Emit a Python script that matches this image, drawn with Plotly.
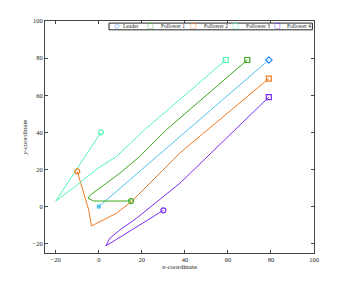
import plotly.graph_objects as go

# Trajectories
leader_x = [0, 79]
leader_y = [0, 79]

f1_x = [15, 5, -2.3, -5, -3.9, -1.9, 4, 9.8, 19, 31.5, 69]
f1_y = [3, 3, 3, 4.5, 6.3, 8, 13, 18, 27, 41.5, 79]

f2_x = [-10, -4.7, -3.4, 0.5, 8.2, 15.2, 37.7, 79]
f2_y = [19, -1.8, -10.4, -8, -3.6, 2.7, 28.9, 69]

f3_x = [1, -20, -11.9, -0.3, 8.2, 21.4, 59]
f3_y = [40, 3, 10, 20.7, 27, 41.5, 79]

f4_x = [30, 3.3, 5.1, 9.8, 17.5, 25.3, 37.7, 79]
f4_y = [-2, -21.2, -17.1, -12.6, -6.3, 0.9, 12.6, 59]

tick_vals = [-20, 0, 20, 40, 60, 80, 100]
tick_text = ["−20", "0", "20", "40", "60", "80", "100"]

names = ["Leader", "Follower 1", "Follower 2", "Follower 3", "Follower 4"]
xs = [leader_x, f1_x, f2_x, f3_x, f4_x]
ys = [leader_y, f1_y, f2_y, f3_y, f4_y]
line_colors = ["#4fc3f0", "#3ca81e", "#f07a22", "#55f5b5", "#7a2cf2"]
marker_colors = ["#2a8cff", "#3ca81e", "#f07a22", "#55f5b5", "#7a2cf2"]
end_symbols = ["diamond-open", "square-open", "square-open", "square-open", "square-open"]
legend_glyphs = ["◇", "□", "□", "□", "□"]

font = "Liberation Serif, DejaVu Serif, serif"
fig = go.Figure()

for i in range(5):
    fig.add_trace(go.Scatter(x=xs[i], y=ys[i], mode="lines",
                             line=dict(color=line_colors[i], width=1),
                             showlegend=False, hoverinfo="skip"))
# start markers
fig.add_trace(go.Scatter(x=[leader_x[0]], y=[leader_y[0]], mode="markers",
                         marker=dict(symbol="square", size=4, color=line_colors[0]),
                         showlegend=False))
for i in range(1, 5):
    fig.add_trace(go.Scatter(x=[xs[i][0]], y=[ys[i][0]], mode="markers",
                             marker=dict(symbol="circle-open", size=5, color=marker_colors[i],
                                         line=dict(width=1.2)),
                             showlegend=False))
# end markers
for i in range(5):
    fig.add_trace(go.Scatter(x=[xs[i][-1]], y=[ys[i][-1]], mode="markers", name=names[i],
                             marker=dict(symbol=end_symbols[i], size=5, color=marker_colors[i],
                                         line=dict(width=1.2)),
                             showlegend=False))

axis_common = dict(showgrid=False, zeroline=False, showline=True, linecolor="#444",
                   linewidth=1, mirror="ticks", ticks="inside", ticklen=3, tickcolor="#444",
                   automargin=False,
                   tickfont=dict(family=font, size=6.5, color="#222"))
fig.update_xaxes(range=[-25, 100], tickvals=tick_vals, ticktext=tick_text,
                 title=dict(text="<i>x</i>-coordinate", font=dict(family=font, size=7, color="#222"),
                            standoff=1), **axis_common)
fig.update_yaxes(range=[-25, 100], tickvals=tick_vals, ticktext=tick_text,
                 title=dict(text="<i>y</i>-coordinate", font=dict(family=font, size=7, color="#222"),
                            standoff=4), **axis_common)

# custom compact legend box (top right, inside the axes)
fig.add_shape(type="rect", xref="paper", yref="paper", x0=0.238, x1=0.994, y0=0.962, y1=0.991,
              line=dict(color="#222", width=1), fillcolor="white", layer="above")
glyph_x = [0.269, 0.394, 0.552, 0.708, 0.864]
text_x = [0.283, 0.425, 0.583, 0.738, 0.894]
for i in range(5):
    fig.add_annotation(xref="paper", yref="paper", x=glyph_x[i], y=0.977,
                       text="<b>" + legend_glyphs[i] + "</b>",
                       showarrow=False, xanchor="center", yanchor="middle",
                       font=dict(family="DejaVu Sans", size=7, color=marker_colors[i]))
    fig.add_annotation(xref="paper", yref="paper", x=text_x[i], y=0.977, text=names[i],
                       showarrow=False, xanchor="left", yanchor="middle",
                       font=dict(family=font, size=5.5, color="#222"))

fig.update_layout(
    width=339, height=277,
    margin=dict(l=37, r=33, t=13, b=32),
    plot_bgcolor="white", paper_bgcolor="white",
    showlegend=False,
)
fig.write_html("out.html")
